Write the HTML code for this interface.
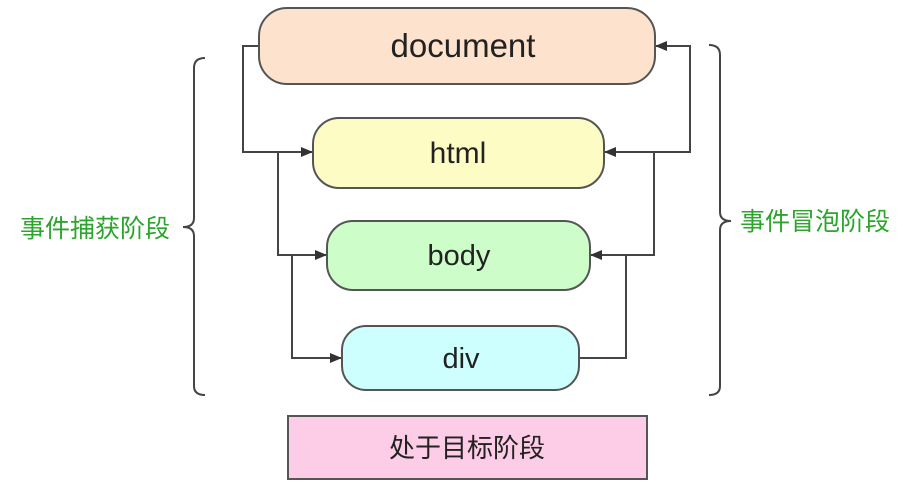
<!DOCTYPE html>
<html><head><meta charset="utf-8"><style>
html,body{margin:0;padding:0;background:#fff;width:912px;height:484px;overflow:hidden}
text{font-family:"Liberation Sans","Noto Sans CJK SC",sans-serif}
</style></head><body>
<svg width="912" height="484" viewBox="0 0 912 484" xmlns="http://www.w3.org/2000/svg">
<defs><marker id="a" markerWidth="12" markerHeight="10" refX="12" refY="5" orient="auto" markerUnits="userSpaceOnUse"><path d="M0,0 L12,5 L0,10 z" fill="#333"/></marker></defs>
<g fill="none" stroke="#444" stroke-width="2">
<polyline points="259,46 243,46 243,152 313,152" marker-end="url(#a)"/>
<polyline points="278,152 278,255 327,255" marker-end="url(#a)"/>
<polyline points="292,255 292,358 342,358" marker-end="url(#a)"/>
<polyline points="579,358 626,358 626,255 590,255" marker-end="url(#a)"/>
<polyline points="626,255 654,255 654,152 604,152" marker-end="url(#a)"/>
<polyline points="654,152 690,152 690,46 655,46" marker-end="url(#a)"/>
<path d="M205,58 Q194,58 194,68 L194,218 Q194,227 183,227 Q194,227 194,236 L194,386 Q194,395 205,395"/>
<path d="M709,45 Q720,45 720,55 L720,212 Q720,221 731,221 Q720,221 720,230 L720,386 Q720,395 709,395"/>
</g>
<g stroke="#555" stroke-width="2">
<rect x="259" y="8" width="396" height="76" rx="28" fill="#fde3cd"/>
<rect x="313" y="118" width="291" height="70" rx="26" fill="#fefcc5"/>
<rect x="327" y="221" width="263" height="69" rx="26" fill="#cdfdc9"/>
<rect x="342" y="326" width="237" height="64" rx="24" fill="#ccfffd"/>
<rect x="288" y="416" width="359" height="63" fill="#fdcce6"/>
</g>
<g fill="#222" text-anchor="middle">
<text x="463" y="57" font-size="33">document</text>
<text x="458" y="163" font-size="30">html</text>
<text x="459" y="265" font-size="29">body</text>
<text x="461" y="368" font-size="29">div</text>
<text x="467" y="457" font-size="26">处于目标阶段</text>
</g>
<g fill="#2ca52c" font-size="25">
<text x="20" y="237">事件捕获阶段</text>
<text x="740" y="230">事件冒泡阶段</text>
</g>
</svg>
</body></html>
